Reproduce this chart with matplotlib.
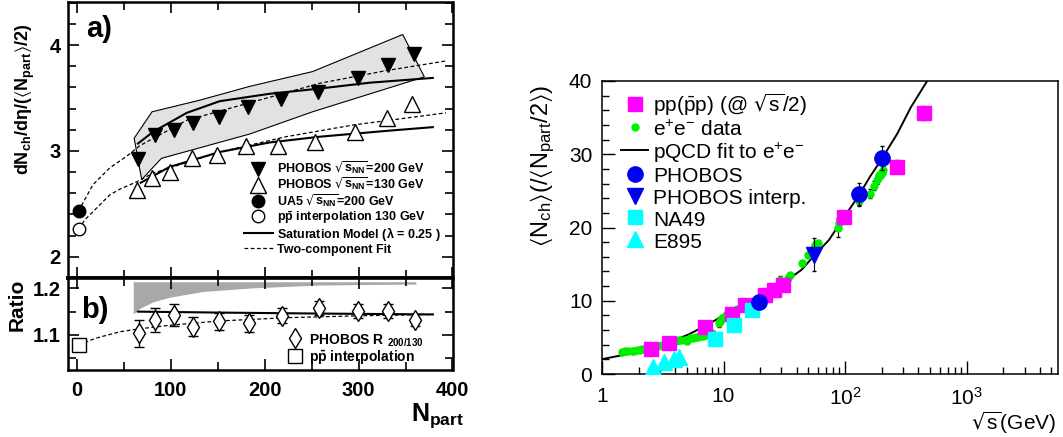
import matplotlib.pyplot as plt
from matplotlib.ticker import MultipleLocator, FixedLocator, LogLocator, NullFormatter

plt.rcParams['font.family'] = ['Liberation Sans', 'DejaVu Sans']
plt.rcParams['mathtext.default'] = 'regular'

# ---- a) dN/deta per participant pair vs Npart
npart_200 = [65, 83, 103, 124, 151, 182, 217, 257, 299, 331, 359]
dndeta_200 = [2.92, 3.15, 3.20, 3.26, 3.32, 3.42, 3.49, 3.56, 3.69, 3.81, 3.92]
npart_130 = [64, 80, 99, 123, 149, 180, 214, 254, 296, 330, 357]
dndeta_130 = [2.63, 2.74, 2.80, 2.93, 2.96, 3.05, 3.05, 3.08, 3.18, 3.31, 3.44]
npart_pp = [2]
ua5_200 = [2.43]
pp_interp_130 = [2.26]

# systematic band around the 200 GeV points (closed outline)
band_n = [61, 80, 131, 184, 251, 347, 370, 251, 184, 90, 69, 61]
band_v = [3.12, 3.37, 3.48, 3.61, 3.75, 4.10, 3.70, 3.37, 3.16, 2.93, 2.73, 3.12]

sat_n_200 = [65, 81, 117, 152, 205, 259, 312, 379]
sat_200 = [3.07, 3.18, 3.36, 3.47, 3.54, 3.59, 3.645, 3.69]
sat_n_130 = [68, 99, 152, 205, 259, 330, 379]
sat_130 = [2.70, 2.85, 2.99, 3.08, 3.135, 3.19, 3.225]

fit_n_200 = [2, 4, 17, 35, 53, 67, 117, 188, 259, 330, 393]
fit_200 = [2.43, 2.47, 2.68, 2.84, 2.95, 3.05, 3.29, 3.465, 3.64, 3.76, 3.85]
fit_n_130 = [2, 8.5, 35, 46, 64, 81, 152, 223, 294, 393]
fit_130 = [2.26, 2.35, 2.585, 2.64, 2.71, 2.79, 2.99, 3.135, 3.245, 3.36]

# ---- b) ratio 200/130
ratio_n = [66, 83, 103, 124, 151, 183, 218, 258, 299, 331, 360]
ratio = [1.104, 1.132, 1.143, 1.118, 1.129, 1.125, 1.141, 1.157, 1.151, 1.151, 1.132]
ratio_err = [0.029, 0.026, 0.023, 0.020, 0.018, 0.018, 0.016, 0.015, 0.015, 0.015, 0.012]
pp_ratio = [1.079]

band_b_n = [60, 67, 81, 99, 134, 188, 258, 361]
band_b_lo = [1.145, 1.157, 1.171, 1.181, 1.193, 1.201, 1.207, 1.209]
band_b_hi = [1.214, 1.214, 1.214, 1.214, 1.214, 1.214, 1.214, 1.214]

sat_ratio_n = [65, 150, 250, 379]
sat_ratio = [1.150, 1.148, 1.146, 1.144]
fit_ratio_n = [2, 20, 46, 66, 100, 152, 223, 300, 380]
fit_ratio = [1.079, 1.093, 1.107, 1.113, 1.121, 1.130, 1.137, 1.141, 1.144]

# ---- right: multiplicity vs sqrt(s)
pp_s = [2.55, 3.53, 7.05, 11.8, 14.9, 22.0, 25.9, 30.8, 98.6, 269, 443]
pp_n = [3.39, 4.29, 6.42, 8.23, 9.40, 10.85, 11.5, 12.2, 21.5, 28.3, 35.6]
pp_err = [0.3, 0.3, 0.3, 0.6, 0.3, 0.3, 0.3, 0.3, 0.4, 0.9, 0.95]

ee_s = [1.45, 1.55, 1.65, 1.75, 1.85, 1.95, 2.05, 2.15, 2.25, 2.35,
        2.9, 3.1, 3.3, 3.5, 3.7, 3.9, 4.1, 4.3, 4.5, 4.8, 5.0,
        5.3, 5.6, 5.9, 6.2, 6.5, 6.8, 7.1, 7.4, 7.7, 8.0,
        9.1, 9.4, 9.8, 10.5, 11.0, 12.0, 13.0, 14.0, 14.8,
        22, 25, 29, 30, 34, 35, 44, 50, 52, 55, 57, 58, 60,
        88, 90, 91.2, 130, 133, 136, 161, 172, 183, 189, 192, 196, 200, 202, 206]
ee_n = [3.05, 3.10, 3.10, 3.15, 3.20, 3.25, 3.30, 3.35, 3.45, 3.55,
        3.80, 3.90, 4.00, 4.15, 4.30, 4.40, 4.50, 4.60, 4.65, 4.70, 4.55,
        4.85, 4.95, 5.05, 5.10, 5.20, 5.25, 5.30, 5.40, 5.50, 5.65,
        7.0, 7.3, 7.6, 8.1, 8.3, 8.6, 8.9, 9.2, 9.4,
        10.9, 11.5, 12.9, 12.6, 13.1, 13.5, 15.1, 16.3, 16.6, 17.1, 17.6, 17.8, 17.9,
        20.0, 20.6, 21.0, 23.6, 23.9, 24.2, 24.6, 25.7, 26.5, 27.0, 27.1, 27.3, 27.6, 27.5, 27.9]
ee_err = [0.1] * 20 + [0.3] + [0.1] * 10 + \
         [0.6, 0.5, 0.5, 0.3, 0.3, 0.3, 0.3, 0.3, 0.3,
          0.3, 0.3, 0.5, 0.3, 0.4, 0.3, 0.3, 0.3, 0.3, 0.3, 0.6, 0.3, 0.3,
          1.3, 0.4, 0.3, 0.6, 0.4, 0.4, 0.6, 0.6, 0.5, 0.5, 0.5, 0.5, 0.5, 0.5, 0.5]

pqcd_s = [1.0, 1.73, 2.55, 3.53, 5.2, 7.05, 9.31, 12.1, 15.6, 19.6, 26.2, 33.9,
          44.0, 55.0, 73.8, 98.6, 128, 160, 197, 269, 348, 466, 514]
pqcd_n = [2.03, 2.80, 3.50, 4.29, 5.42, 6.55, 7.68, 8.81, 9.72, 10.53, 11.75, 12.88,
          14.24, 16.05, 18.3, 21.47, 24.2, 26.9, 29.15, 32.8, 36.4, 39.8, 40.9]

phobos_s = [19.6, 130, 200]
phobos_n = [9.85, 24.6, 29.5]
phobos_err = [0.5, 1.5, 1.6]
interp_s = [55.2]
interp_n = [16.3]
interp_err = [2.2]
na49_s = [8.57, 12.1, 17.2]
na49_n = [4.84, 6.7, 8.8]
e895_s = [2.64, 3.25, 3.89, 4.34]
e895_n = [1.0, 1.6, 2.0, 2.3]

W, H = 1063, 437


def fx(px):
    return px / W


def fy(py):
    return 1 - py / H


fig = plt.figure(figsize=(W / 100, H / 100), dpi=100)
left, right = 67.5, 452.5
axa = fig.add_axes([fx(left), fy(278), (right - left) / W, (278 - 1.7) / H])
axb = fig.add_axes([fx(left), fy(370), (right - left) / W, (370 - 278) / H], sharex=axa)
axr = fig.add_axes([fx(602), fy(374), (1058 - 602) / W, (374 - 81) / H])

# ---------------- panel a
axa.fill(band_n, band_v, facecolor='#e2e2e2', edgecolor='black', lw=0.8, zorder=1)
l_fit, = axa.plot(fit_n_200, fit_200, color='black', lw=0.9, ls=(0, (3, 2)), zorder=2)
axa.plot(fit_n_130, fit_130, color='black', lw=0.9, ls=(0, (3, 2)), zorder=2)
l_sat, = axa.plot(sat_n_200, sat_200, color='black', lw=1.5, zorder=2)
axa.plot(sat_n_130, sat_130, color='black', lw=1.5, zorder=2)
m200, = axa.plot(npart_200, dndeta_200, 'v', color='black', ms=10, ls='none', zorder=3)
m130, = axa.plot(npart_130, dndeta_130, '^', mfc='white', mec='black', mew=1, ms=11,
                 ls='none', zorder=3)
mua5, = axa.plot(npart_pp, ua5_200, 'o', color='black', ms=9, ls='none', zorder=3)
mpp, = axa.plot(npart_pp, pp_interp_130, 'o', mfc='white', mec='black', mew=1, ms=9,
                ls='none', zorder=3)

bold9 = {'weight': 'bold', 'size': 9}
axa.legend([m200, m130, mua5, mpp, l_sat, l_fit],
           [r"PHOBOS $\sqrt{s_{NN}}$=200 GeV", r"PHOBOS $\sqrt{s_{NN}}$=130 GeV",
            r"UA5 $\sqrt{s_{NN}}$=200 GeV", r"p$\bar{p}$ interpolation 130 GeV",
            r"Saturation Model ($\lambda$ = 0.25 )", "Two-component Fit"],
           loc='upper left', bbox_to_anchor=(fx(244), fy(160)),
           bbox_transform=fig.transFigure, frameon=False, prop=bold9,
           handlelength=2.3, handleheight=1.15, handletextpad=0.35, labelspacing=-0.05,
           borderpad=0, borderaxespad=0)

axa.set_xlim(-10, 400)
axa.set_ylim(1.80, 4.41)
axa.set_yticks([2, 3, 4], ['2', '3', '4'], fontsize=14.5, fontweight='bold')
axa.yaxis.set_minor_locator(MultipleLocator(0.2))
axa.xaxis.set_major_locator(MultipleLocator(100))
axa.xaxis.set_minor_locator(MultipleLocator(50))
axa.tick_params(axis='x', labelbottom=False)

# ---------------- panel b
axb.fill_between(band_b_n, band_b_lo, band_b_hi, color='#a8a8a8', lw=0, zorder=1)
axb.plot(fit_ratio_n, fit_ratio, color='black', lw=0.9, ls=(0, (3, 2)), zorder=2)
axb.plot(sat_ratio_n, sat_ratio, color='black', lw=1.5, zorder=2)
axb.errorbar(ratio_n, ratio, yerr=ratio_err, fmt='none', ecolor='black', elinewidth=1,
             capsize=3.5, zorder=3)
mrat, = axb.plot(ratio_n, ratio, 'd', mfc='white', mec='black', mew=1, ms=10,
                 ls='none', zorder=4)
mppr, = axb.plot(npart_pp, pp_ratio, 's', mfc='white', mec='black', mew=1, ms=10,
                 ls='none', zorder=4)
axb.legend([mrat, mppr], [r"PHOBOS R $_{200/130}$", r"p$\bar{p}$ interpolation"],
           loc='upper left', bbox_to_anchor=(fx(287), fy(332)),
           bbox_transform=fig.transFigure, frameon=False,
           prop={'weight': 'bold', 'size': 10},
           handlelength=1.2, handleheight=1.3, handletextpad=0.4, labelspacing=0.0,
           borderpad=0, borderaxespad=0)

axb.set_ylim(1.025, 1.222)
axb.set_yticks([1.1, 1.2], ['1.1', '1.2'], fontsize=14.5, fontweight='bold')
axb.yaxis.set_minor_locator(MultipleLocator(0.05))
axb.set_xticks([0, 100, 200, 300, 400], ['0', '100', '200', '300', '400'],
               fontsize=14.5, fontweight='bold')

for ax in (axa, axb):
    ax.tick_params(which='both', direction='in', top=True, right=True)
    ax.tick_params(which='major', length=8, width=1.2)
    ax.tick_params(which='minor', length=6, width=1.2)
    for sp in ax.spines.values():
        sp.set_linewidth(1.8)
axa.tick_params(axis='y', pad=5)
axb.tick_params(axis='y', pad=5)
axb.tick_params(axis='x', pad=8)
axa.spines['bottom'].set_linewidth(2.6)
axb.spines['top'].set_linewidth(2.6)

fig.text(fx(25), fy(99), r"dN$_{ch}$/d$\eta$/($\langle$N$_{part}\rangle$/2)", rotation=90,
         ha='center', va='center', fontsize=13, fontweight='bold')
fig.text(fx(86), fy(29), "a)", ha='left', va='center', fontsize=21, fontweight='bold')
fig.text(fx(81), fy(310), "b)", ha='left', va='center', fontsize=21, fontweight='bold')
fig.text(fx(17), fy(305), "Ratio", rotation=90, ha='center', va='center', fontsize=15,
         fontweight='bold')
fig.text(fx(411), fy(421), r"N$_{part}$", ha='left', va='baseline', fontsize=18,
         fontweight='bold')

# ---------------- right panel
axr.set_xscale('log')
l_pqcd, = axr.plot(pqcd_s, pqcd_n, color='black', lw=1.4, zorder=2)
axr.errorbar(ee_s, ee_n, yerr=ee_err, fmt='none', ecolor='black', elinewidth=0.8,
             capsize=1.5, zorder=3)
m_ee, = axr.plot(ee_s, ee_n, 'o', color='#00ee00', ms=5, ls='none', zorder=3)
axr.errorbar(pp_s, pp_n, yerr=pp_err, fmt='none', ecolor='black', elinewidth=0.8,
             capsize=1.5, zorder=4)
m_pp, = axr.plot(pp_s, pp_n, 's', color='#ff00ff', ms=9.5, ls='none', zorder=4)
axr.errorbar(phobos_s, phobos_n, yerr=phobos_err, fmt='none', ecolor='black',
             elinewidth=0.8, capsize=1.5, zorder=4)
m_ph, = axr.plot(phobos_s, phobos_n, 'o', color='#0000f0', ms=11, ls='none', zorder=5)
axr.errorbar(interp_s, interp_n, yerr=interp_err, fmt='none', ecolor='black',
             elinewidth=0.8, capsize=1.5, zorder=4)
m_int, = axr.plot(interp_s, interp_n, 'v', color='#0000f0', ms=11, ls='none', zorder=5)
m_na, = axr.plot(na49_s, na49_n, 's', color='#00ffff', ms=9.5, ls='none', zorder=4)
m_e8, = axr.plot(e895_s, e895_n, '^', color='#00ffff', ms=11, ls='none', zorder=4)

axr.legend([m_pp, m_ee, l_pqcd, m_ph, m_int, m_na, m_e8],
           [r"pp($\bar{p}$p) (@ $\sqrt{s}$/2)", r"e$^{+}$e$^{-}$ data",
            r"pQCD fit to e$^{+}$e$^{-}$", "PHOBOS", "PHOBOS interp.", "NA49", "E895"],
           loc='upper left', bbox_to_anchor=(fx(621), fy(92)),
           bbox_transform=fig.transFigure, frameon=False, fontsize=15,
           handlelength=1.3, handleheight=1.15, handletextpad=0.25, labelspacing=0.02,
           borderpad=0, borderaxespad=0)

axr.set_xlim(1, 5660)
axr.set_ylim(0, 40)
axr.xaxis.set_major_locator(FixedLocator([1, 10, 100, 1000]))
axr.set_xticks([1, 10, 100, 1000], ['1', '10', r'$10^{2}$', r'$10^{3}$'], fontsize=15)
axr.xaxis.set_minor_locator(LogLocator(base=10, subs=range(2, 10)))
axr.xaxis.set_minor_formatter(NullFormatter())
axr.set_yticks([0, 10, 20, 30, 40], ['0', '10', '20', '30', '40'], fontsize=15)
axr.yaxis.set_minor_locator(MultipleLocator(2))
axr.tick_params(which='both', direction='in', top=False, right=False)
axr.tick_params(which='major', length=9.5, width=1)
axr.tick_params(which='minor', length=5, width=1)
axr.tick_params(axis='x', pad=9)
axr.tick_params(axis='y', pad=7)
for sp in axr.spines.values():
    sp.set_linewidth(1.1)

fig.text(fx(543), fy(166), r"$\langle$N$_{ch}\rangle$(/$\langle$N$_{part}$/2$\rangle$)",
         rotation=90, ha='center', va='center', fontsize=17)
fig.text(fx(1056), fy(423), r"$\sqrt{s}$(GeV)", ha='right', va='center', fontsize=15)

fig.savefig('out.png', dpi=100)
